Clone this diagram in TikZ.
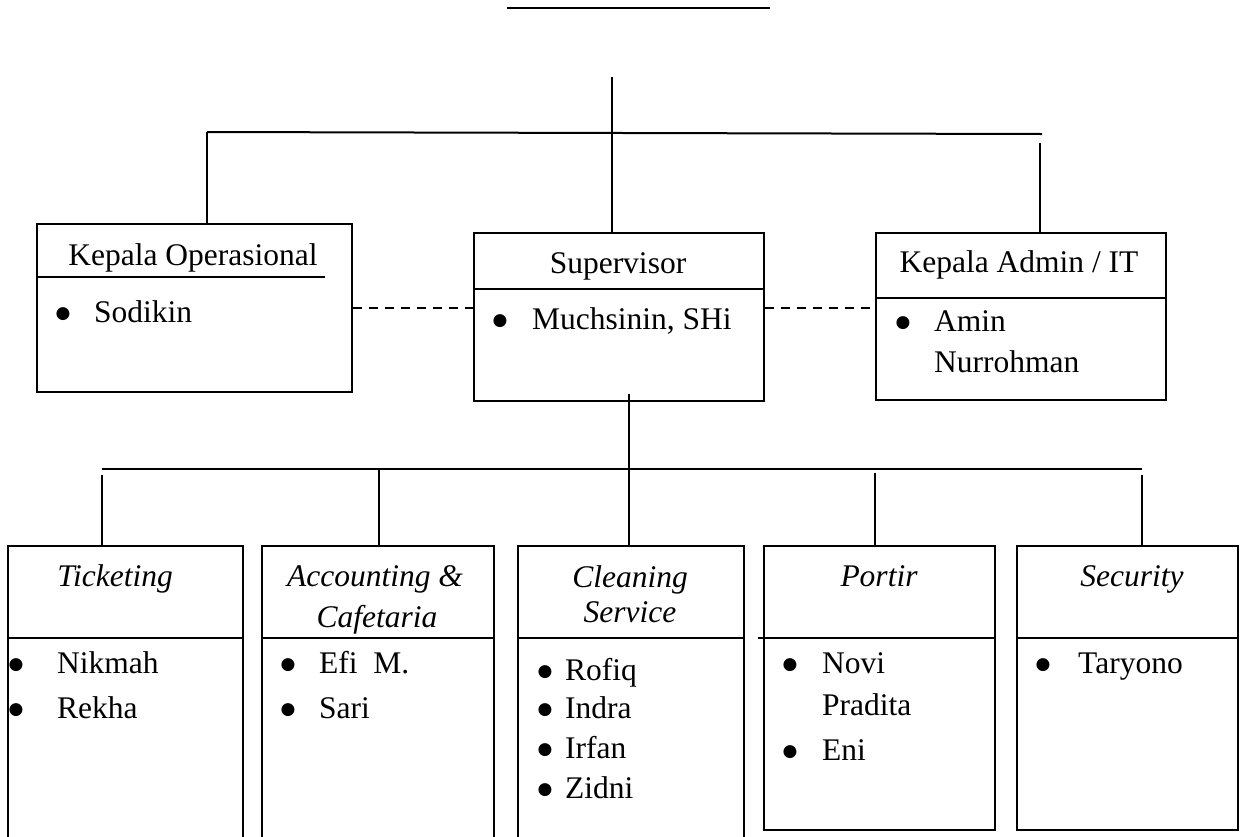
\documentclass[tikz,border=0pt]{standalone}
\usepackage{fontspec}
\setmainfont{Liberation Serif}
\newfontfamily\symfont{DejaVu Sans}
\begin{document}
\begin{tikzpicture}[x=1pt,y=-1pt,
  box/.style={draw, line width=1.8pt, inner sep=0pt, anchor=north west},
  ln/.style={line width=1.6pt},
  dsh/.style={line width=1.6pt, dash pattern=on 9pt off 7pt},
  txt/.style={font=\fontsize{31.5}{38}\selectfont, inner sep=0pt},
  hd/.style={txt, anchor=base},
  hdi/.style={font=\fontsize{31.5}{38}\selectfont\itshape, inner sep=0pt, anchor=base},
  itm/.style={txt, anchor=base west},
  bul/.style={font=\symfont\fontsize{17}{18}\selectfont, inner sep=0pt, anchor=base, yshift=4pt}
]
\useasboundingbox (0,0) rectangle (1243,836);

% ---------- boxes ----------
\node[box, minimum width=315pt, minimum height=168pt] (kop) at (36,223) {};
\node[box, minimum width=290pt, minimum height=168pt] (sup) at (473,232) {};
\node[box, minimum width=290pt, minimum height=167pt] (kad) at (875,232) {};
\node[box, minimum width=235pt, minimum height=300pt] (tic) at (7,545) {};
\node[box, minimum width=232pt, minimum height=300pt] (acc) at (261,545) {};
\node[box, minimum width=226pt, minimum height=300pt] (cle) at (517,545) {};
\node[box, minimum width=231pt, minimum height=284pt] (por) at (763,545) {};
\node[box, minimum width=221pt, minimum height=284pt] (sec) at (1016,545) {};

% header separators
\draw[ln] (36,277) -- (325,277);
\draw[ln] (473,289) -- (763,289);
\draw[ln] (875,298) -- (1165,298);
\draw[ln] (7,638) -- (242,638);
\draw[ln] (261,638) -- (493,638);
\draw[ln] (517,638) -- (743,638);
\draw[ln] (758,638) -- (994,638);
\draw[ln] (1016,638) -- (1237,638);

% ---------- connectors ----------
\coordinate (tl) at (507,8);
\coordinate (tr) at (770,8);
\draw[line width=2.4pt] (tl) -- (tr);

\coordinate (t0) at (612,77);
\draw[ln] (t0) -- (t0 |- sup.north);
\coordinate (hl) at (207,132);
\coordinate (hr) at (1042,134);
\draw[line width=2pt] (hl) -- (hr);
\draw[ln] (hl) -- (hl |- kop.north);
\coordinate (rd) at (1040,143);
\draw[ln] (rd) -- (rd |- kad.north);

\coordinate (dy) at (0,308);
\draw[dsh] (kop.east |- dy) -- (sup.west |- dy);
\draw[dsh] (sup.east |- dy) -- (kad.west |- dy);

\coordinate (sb) at (629,394);
\draw[ln] (sb) -- (sb |- cle.north);
\coordinate (bl) at (102,469);
\coordinate (br) at (1142,469);
\draw[ln] (bl) -- (br);
\coordinate (d1) at (102,475);
\draw[ln] (d1) -- (d1 |- tic.north);
\coordinate (d2) at (379,469);
\draw[ln] (d2) -- (d2 |- acc.north);
\coordinate (d4) at (875,473);
\draw[ln] (d4) -- (d4 |- por.north);
\coordinate (d5) at (1142,475);
\draw[ln] (d5) -- (d5 |- sec.north);

% ---------- headers ----------
\node[hd] (hkop) at (193,265) {Kepala Operasional};
\node[hd] (hsup) at (618,273) {Supervisor};
\node[hd] (hkad) at (1019,272) {Kepala Admin / IT};
\node[hdi] (htic) at (115,586) {Ticketing};
\node[hdi] (hacc1) at (375,586) {Accounting \&};
\node[hdi] (hacc2) at (377,627) {Cafetaria};
\node[hdi] (hcle1) at (630,587) {Cleaning};
\node[hdi] (hcle2) at (630,622) {Service};
\node[hdi] (hpor) at (879,586) {Portir};
\node[hdi] (hsec) at (1132,586) {Security};

% ---------- members ----------
\node[bul] (b1) at (63,322) {●};   \node[itm] (m1) at (94,322) {Sodikin};
\node[bul] (b2) at (500,329) {●};  \node[itm] (m2) at (532,329) {Muchsinin, SHi};
\node[bul] (b3) at (903,331) {●};  \node[itm] (m3) at (934,331) {Amin};
\node[itm] (m3b) at (934,372) {Nurrohman};

\node[bul] (b4) at (16,673) {●};   \node[itm] (m4) at (57,673) {Nikmah};
\node[bul] (b5) at (16,718) {●};   \node[itm] (m5) at (57,718) {Rekha};

\node[bul] (b6) at (288,673) {●};  \node[itm] (m6) at (319,673) {Efi~ M.};
\node[bul] (b7) at (288,718) {●};  \node[itm] (m7) at (319,718) {Sari};

\node[bul] (b8) at (545,680) {●};  \node[itm] (m8) at (565,680) {Rofiq};
\node[bul] (b9) at (545,718) {●};  \node[itm] (m9) at (565,718) {Indra};
\node[bul] (b10) at (545,758) {●}; \node[itm] (m10) at (565,758) {Irfan};
\node[bul] (b11) at (545,798) {●}; \node[itm] (m11) at (565,798) {Zidni};

\node[bul] (b12) at (790,673) {●}; \node[itm] (m12) at (822,673) {Novi};
\node[itm] (m12b) at (822,715) {Pradita};
\node[bul] (b13) at (790,760) {●}; \node[itm] (m13) at (822,760) {Eni};

\node[bul] (b14) at (1043,673) {●}; \node[itm] (m14) at (1078,673) {Taryono};
\end{tikzpicture}
\end{document}
